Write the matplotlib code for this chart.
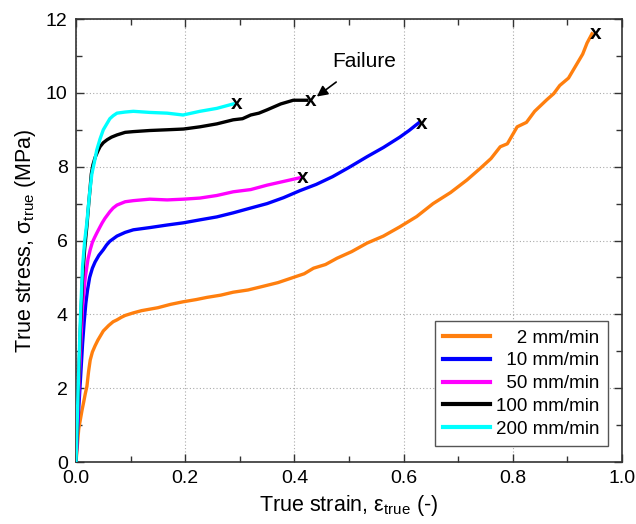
import matplotlib
matplotlib.use("Agg")
import matplotlib.pyplot as plt

plt.rcParams['font.family'] = ['Liberation Sans', 'DejaVu Sans']
plt.rcParams['mathtext.fontset'] = 'custom'
plt.rcParams['mathtext.rm'] = 'Liberation Sans'
plt.rcParams['mathtext.it'] = 'Liberation Sans:italic'

labels = ["\u2007\u20072 mm/min", "\u200710 mm/min", "\u200750 mm/min", "100 mm/min", "200 mm/min"]
colors = ["#ff7f0e", "#0000ff", "#ff00ff", "#000000", "#00ffff"]

strain_2 = [0, 0.005, 0.008, 0.011, 0.014, 0.017, 0.02, 0.023, 0.026, 0.03, 0.035, 0.04, 0.044,
            0.05, 0.06, 0.068, 0.075, 0.083, 0.09, 0.105, 0.12, 0.135, 0.15, 0.173,
            0.196, 0.22, 0.24, 0.265, 0.288, 0.315, 0.34, 0.37, 0.398, 0.418, 0.435, 0.457,
            0.478, 0.505, 0.533, 0.563, 0.593, 0.624, 0.654, 0.686, 0.716, 0.74, 0.76,
            0.777, 0.79, 0.808, 0.825, 0.84, 0.862, 0.875, 0.886, 0.902, 0.918, 0.928, 0.936, 0.945]
stress_2 = [0, 0.9, 1.15, 1.4, 1.62, 1.85, 2.05, 2.45, 2.76, 2.98, 3.15, 3.3, 3.4,
            3.55, 3.7, 3.8, 3.85, 3.92, 3.97, 4.04, 4.1, 4.14, 4.18, 4.27,
            4.34, 4.4, 4.46, 4.52, 4.6, 4.66, 4.75, 4.86, 5.0, 5.1, 5.25, 5.35,
            5.52, 5.7, 5.93, 6.12, 6.37, 6.65, 7.0, 7.3, 7.64, 7.95, 8.22,
            8.54, 8.62, 9.08, 9.2, 9.5, 9.81, 9.98, 10.2, 10.4, 10.8, 11.05, 11.35, 11.6]

strain_10 = [0, 0.004, 0.008, 0.012, 0.015, 0.018, 0.021, 0.025, 0.03, 0.035, 0.042, 0.05, 0.056,
             0.062, 0.075, 0.09, 0.105, 0.135, 0.167, 0.197, 0.227, 0.258, 0.288, 0.32, 0.35,
             0.38, 0.41, 0.44, 0.47, 0.5, 0.533, 0.563, 0.593, 0.61, 0.627]
stress_10 = [0, 1.2, 2.2, 3.2, 3.8, 4.3, 4.65, 5.0, 5.25, 5.42, 5.6, 5.75, 5.88,
             5.98, 6.12, 6.22, 6.29, 6.35, 6.42, 6.48, 6.56, 6.64, 6.75, 6.88, 7.0,
             7.16, 7.35, 7.52, 7.73, 7.98, 8.27, 8.52, 8.8, 8.98, 9.18]

strain_50 = [0, 0.004, 0.008, 0.012, 0.017, 0.022, 0.026, 0.03, 0.034, 0.038, 0.044, 0.048,
             0.053, 0.058, 0.062, 0.068, 0.075, 0.09, 0.105, 0.135, 0.167, 0.197, 0.227,
             0.258, 0.288, 0.32, 0.35, 0.38, 0.41]
stress_50 = [0, 1.5, 3.0, 4.2, 5.0, 5.5, 5.75, 5.95, 6.08, 6.2, 6.37, 6.48,
             6.6, 6.7, 6.78, 6.88, 6.96, 7.05, 7.08, 7.12, 7.1, 7.12, 7.15,
             7.22, 7.32, 7.38, 7.5, 7.6, 7.7]

strain_100 = [0, 0.004, 0.008, 0.012, 0.016, 0.02, 0.023, 0.026, 0.028, 0.031, 0.035, 0.04,
              0.044, 0.05, 0.057, 0.065, 0.075, 0.09, 0.105, 0.135, 0.167, 0.197, 0.227,
              0.258, 0.288, 0.305, 0.32, 0.335, 0.35, 0.375, 0.398, 0.423]
stress_100 = [0, 1.8, 3.6, 5.0, 5.8, 6.4, 6.95, 7.45, 7.8, 8.05, 8.25, 8.42,
              8.54, 8.65, 8.73, 8.8, 8.86, 8.93, 8.95, 8.98, 9.0, 9.02, 9.08,
              9.16, 9.27, 9.3, 9.4, 9.45, 9.54, 9.7, 9.8, 9.8]

strain_200 = [0, 0.004, 0.008, 0.012, 0.016, 0.02, 0.025, 0.029, 0.034, 0.038, 0.044, 0.05,
              0.056, 0.062, 0.068, 0.075, 0.09, 0.105, 0.135, 0.167, 0.196, 0.227, 0.258, 0.288]
stress_200 = [0, 2.0, 3.9, 5.3, 6.0, 6.5, 7.3, 7.8, 8.15, 8.45, 8.75, 9.0,
              9.15, 9.3, 9.38, 9.45, 9.48, 9.5, 9.47, 9.45, 9.4, 9.5, 9.58, 9.7]

series = [(strain_2, stress_2), (strain_10, stress_10), (strain_50, stress_50),
          (strain_100, stress_100), (strain_200, stress_200)]

fig = plt.figure(figsize=(6.36, 5.24), dpi=100)
ax = fig.add_axes([0.1195, 0.1183, 0.8585, 0.8454])

for (x, y), c, lab in zip(series, colors, labels):
    ax.plot(x, y, color=c, lw=2.4, label=lab, zorder=3)
for (x, y) in series:
    ax.text(x[-1] + 0.006, y[-1], 'x', fontsize=15, fontweight='bold',
            ha='center', va='center', zorder=5)

ax.annotate('Failure', xy=(0.441, 9.9), xytext=(0.527, 10.85), fontsize=15,
            ha='center', va='center',
            arrowprops=dict(arrowstyle='-|>', color='black', lw=1.2,
                            mutation_scale=16, shrinkA=10, shrinkB=0))

ax.set_xlim(0, 1.0)
ax.set_ylim(0, 12)
ax.set_xticks([0, 0.2, 0.4, 0.6, 0.8, 1.0])
ax.set_xticklabels(['0.0', '0.2', '0.4', '0.6', '0.8', '1.0'])
ax.set_yticks([0, 2, 4, 6, 8, 10, 12])
ax.set_xticks([0.1, 0.3, 0.5, 0.7, 0.9], minor=True)
ax.set_yticks([1, 3, 5, 7, 9, 11], minor=True)
ax.tick_params(which='both', direction='in', top=True, right=True, labelsize=14,
               color='#333333')
ax.tick_params(axis='x', which='major', pad=6)
ax.tick_params(axis='y', which='major', pad=6)
ax.tick_params(which='major', length=6, width=1)
ax.tick_params(which='minor', length=4, width=1)
ax.grid(True, which='major', linestyle=(0, (1, 2)), color='#aaaaaa', lw=0.8)
for s in ax.spines.values():
    s.set_color('#333333')
    s.set_linewidth(1.2)

ax.set_xlabel('True strain, ε$_{\\mathrm{true}}$ (-)', fontsize=15.5, labelpad=4)
ax.set_ylabel('True stress, σ$_{\\mathrm{true}}$ (MPa)', fontsize=15.5, labelpad=6)

leg = ax.legend(loc='lower right', bbox_to_anchor=(0.974, 0.036), fontsize=13.5,
                handlelength=2.5, labelspacing=0.3, handletextpad=0.3,
                borderpad=0.45, borderaxespad=0, fancybox=False,
                edgecolor='#555555', framealpha=1)
leg.get_frame().set_linewidth(1.0)
for l in leg.get_lines():
    l.set_linewidth(3)

fig.savefig('out.png', dpi=100)
